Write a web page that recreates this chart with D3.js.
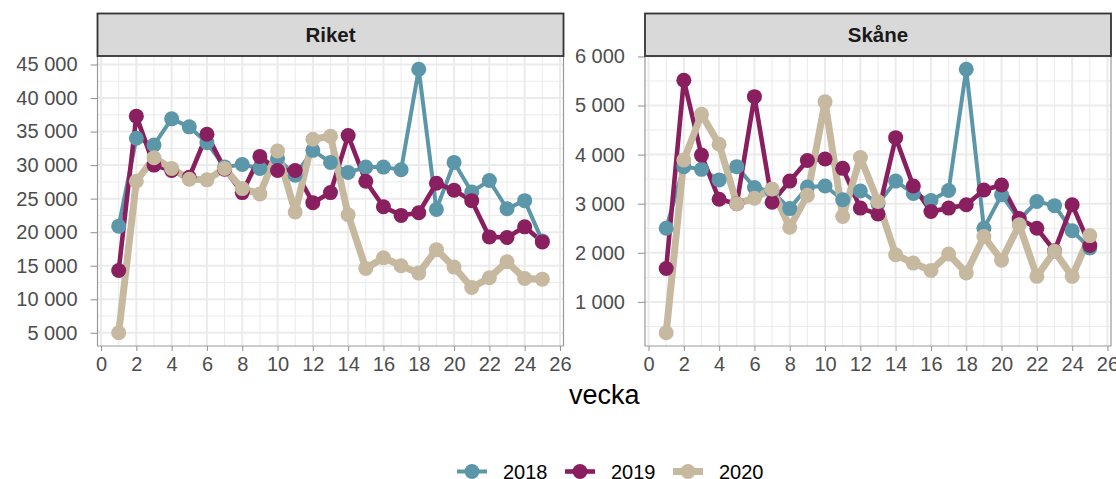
<!DOCTYPE html>
<html>
<head>
<meta charset="utf-8">
<script src="https://cdn.jsdelivr.net/npm/d3@7"></script>
<style>
  body { margin: 0; background: #fff; }
  svg text { font-family: "Liberation Sans", Arial, sans-serif; }
</style>
</head>
<body>
<svg id="chart" width="1116" height="479"></svg>
<script>
"use strict";

// weekly values
const weeks = [1, 2, 3, 4, 5, 6, 7, 8, 9, 10, 11, 12, 13, 14, 15, 16, 17, 18, 19, 20, 21, 22, 23, 24, 25];
const years = ["2018", "2019", "2020"];
const panelNames = ["Riket", "Skåne"];

const riket2018 = [20900, 34000, 33000, 36900, 35700, 33350, 29700, 30100, 29500, 31000, 28500, 32200, 30400,
                   28900, 29700, 29700, 29300, 44300, 23400, 30400, 26000, 27700, 23500, 24700, 18700];
const riket2019 = [14300, 37300, 30000, 29200, 28200, 34600, 29400, 25900, 31300, 29200, 29200, 24400, 25900,
                   34400, 27600, 23800, 22500, 22900, 27300, 26250, 24700, 19300, 19200, 20800, 18550];
const riket2020 = [5000, 27600, 31100, 29500, 27900, 27800, 29500, 26500, 25700, 32100, 23000, 33850, 34300,
                   22600, 14600, 16200, 15000, 13900, 17400, 14800, 11750, 13200, 15600, 13100, 13000];

const skane2018 = [2500, 3755, 3700, 3485, 3755, 3330, 3250, 2900, 3340, 3360, 3080, 3260, 3000,
                   3460, 3210, 3065, 3270, 5740, 2500, 3180, 2670, 3045, 2960, 2450, 2100];
const skane2019 = [1680, 5516, 3990, 3090, 3000, 5180, 3030, 3460, 3880, 3910, 3720, 2910, 2790,
                   4345, 3360, 2840, 2910, 2980, 3280, 3380, 2700, 2500, 2040, 2980, 2150];
const skane2020 = [370, 3890, 4820, 4210, 3000, 3110, 3300, 2520, 3170, 5075, 2740, 3940, 3045,
                   1960, 1790, 1640, 1975, 1590, 2330, 1850, 2570, 1520, 2030, 1520, 2350];

const xTicks = [0, 2, 4, 6, 8, 10, 12, 14, 16, 18, 20, 22, 24, 26];
const riketTicks = [5000, 10000, 15000, 20000, 25000, 30000, 35000, 40000, 45000];
const skaneTicks = [1000, 2000, 3000, 4000, 5000, 6000];

const colors = { "2018": "#5c97a9", "2019": "#8a1f5f", "2020": "#c6b9a0" };
const lineWidths = { "2018": 4, "2019": 4.6, "2020": 7 };

// layout
const panelTop = 56, panelBottom = 346, stripTop = 13.5;
const panels = [
    { name: panelNames[0], left: 97.5, right: 563.5, ticks: riketTicks,
      series: { "2018": riket2018, "2019": riket2019, "2020": riket2020 } },
    { name: panelNames[1], left: 645, right: 1111, ticks: skaneTicks,
      series: { "2018": skane2018, "2019": skane2019, "2020": skane2020 } }
];

// swedish style thousands: "45 000"
const fmt = d3.formatLocale({ decimal: ",", thousands: "\u00a0", grouping: [3], currency: ["", ""] }).format(",d");
const svg = d3.select("#chart");

function expandDomain(values) {
    let lo = d3.min(values), hi = d3.max(values);
    let pad = (hi - lo) * 0.05;
    return [lo - pad, hi + pad];
}

function drawPanel(p) {
    let all = [].concat(...years.map(y => p.series[y]));
    let x = d3.scaleLinear().domain([weeks[0] - 1.2, weeks[weeks.length - 1] + 1.2]).range([p.left, p.right]);
    let y = d3.scaleLinear().domain(expandDomain(all)).range([panelBottom, panelTop]);
    let g = svg.append("g");

    // grid: minor first, then major
    let step = p.ticks[1] - p.ticks[0];
    let minorY = p.ticks.map(t => t - step / 2).concat([p.ticks[p.ticks.length - 1] + step / 2])
        .filter(v => v > y.domain()[0] && v < y.domain()[1]);
    let minorX = d3.range(1, 26, 2);
    g.selectAll(".minx").data(minorX).join("line")
        .attr("x1", d => x(d)).attr("x2", d => x(d))
        .attr("y1", panelTop).attr("y2", panelBottom)
        .attr("stroke", "#ebebeb").attr("stroke-width", 1);
    g.selectAll(".miny").data(minorY).join("line")
        .attr("x1", p.left).attr("x2", p.right)
        .attr("y1", d => y(d)).attr("y2", d => y(d))
        .attr("stroke", "#ebebeb").attr("stroke-width", 1);
    g.selectAll(".majx").data(xTicks).join("line")
        .attr("x1", d => x(d)).attr("x2", d => x(d))
        .attr("y1", panelTop).attr("y2", panelBottom)
        .attr("stroke", "#ebebeb").attr("stroke-width", 2);
    g.selectAll(".majy").data(p.ticks).join("line")
        .attr("x1", p.left).attr("x2", p.right)
        .attr("y1", d => y(d)).attr("y2", d => y(d))
        .attr("stroke", "#ebebeb").attr("stroke-width", 2);

    // axes
    let yAxis = d3.axisLeft(y).tickValues(p.ticks).tickFormat(fmt).tickSize(7).tickPadding(13);
    let ya = g.append("g").attr("transform", `translate(${p.left},0)`).call(yAxis);
    let xAxis = d3.axisBottom(x).tickValues(xTicks).tickSize(5).tickPadding(6);
    let xa = g.append("g").attr("transform", `translate(0,${panelBottom})`).call(xAxis);
    [ya, xa].forEach(a => {
        a.select(".domain").remove();
        a.selectAll(".tick line").attr("stroke", "#999").attr("stroke-width", 1.1);
        a.selectAll(".tick text").attr("fill", "#4d4d4d").style("font-size", "20px")
            .style("font-family", "Liberation Sans, Arial, sans-serif");
    });

    // panel border (left, bottom, right)
    g.append("path")
        .attr("d", `M${p.left},${panelTop}V${panelBottom}H${p.right}V${panelTop}`)
        .attr("fill", "none").attr("stroke", "#999").attr("stroke-width", 1.2);

    // lines then points
    let line = d3.line().x((d, i) => x(weeks[i])).y(d => y(d));
    years.forEach(yr => {
        g.append("path").datum(p.series[yr])
            .attr("d", line)
            .attr("fill", "none")
            .attr("stroke", colors[yr])
            .attr("stroke-width", lineWidths[yr])
            .attr("stroke-linejoin", "round");
    });
    years.forEach(yr => {
        g.selectAll(".pt" + yr).data(p.series[yr]).join("circle")
            .attr("cx", (d, i) => x(weeks[i]))
            .attr("cy", d => y(d))
            .attr("r", 7.5)
            .attr("fill", colors[yr]);
    });

    // strip
    g.append("rect")
        .attr("x", p.left).attr("y", stripTop)
        .attr("width", p.right - p.left).attr("height", panelTop - stripTop)
        .attr("fill", "#d9d9d9").attr("stroke", "#333").attr("stroke-width", 1.8);
    g.append("text")
        .attr("x", (p.left + p.right) / 2).attr("y", (stripTop + panelTop) / 2)
        .attr("dy", "0.35em").attr("text-anchor", "middle")
        .style("font-size", "20.5px").style("font-weight", "bold").attr("fill", "#1a1a1a")
        .text(p.name);
}

panels.forEach(drawPanel);

// axis title
svg.append("text")
    .attr("x", (panels[0].left + panels[1].right) / 2).attr("y", 404)
    .attr("text-anchor", "middle").style("font-size", "27px").attr("fill", "#000")
    .text("vecka");

// legend
const legendX = [457, 565, 673];
years.forEach((yr, i) => {
    let lg = svg.append("g").attr("transform", `translate(${legendX[i]},471.5)`);
    lg.append("line").attr("x1", 0).attr("x2", 30).attr("y1", 0).attr("y2", 0)
        .attr("stroke", colors[yr]).attr("stroke-width", lineWidths[yr]);
    lg.append("circle").attr("cx", 15).attr("cy", 0).attr("r", 7.5).attr("fill", colors[yr]);
    lg.append("text").attr("x", 46).attr("y", 0).attr("dy", "0.36em")
        .style("font-size", "20px").attr("fill", "#000").text(yr);
});
</script>
</body>
</html>
